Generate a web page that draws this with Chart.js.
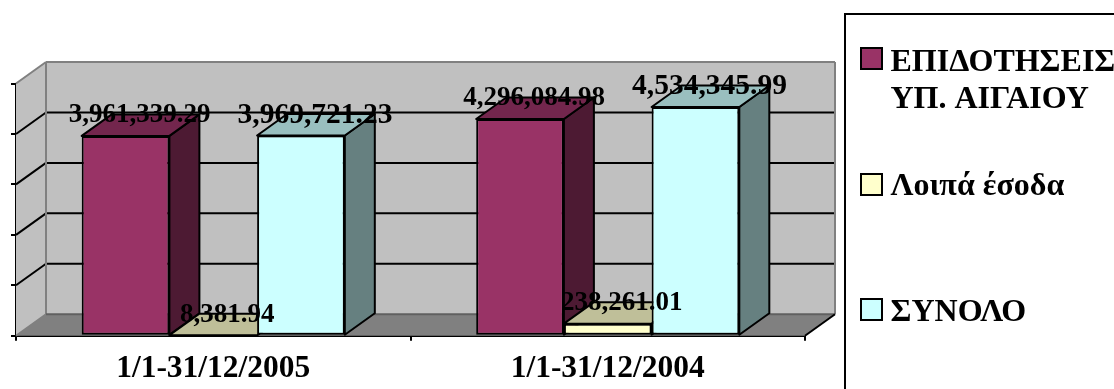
<!DOCTYPE html>
<html>
<head>
<meta charset="utf-8">
<title>Έσοδα</title>
<style>
  html, body { margin: 0; padding: 0; background: #fff; }
  canvas { display: block; }
</style>
<script src="https://cdn.jsdelivr.net/npm/chart.js@4"></script>
</head>
<body>
<canvas id="chart" width="1114" height="389"></canvas>
<script>
// Chart values
const categories = ["1/1-31/12/2005", "1/1-31/12/2004"];
const seriesNames = [["ΕΠΙΔΟΤΗΣΕΙΣ", "ΥΠ. ΑΙΓΑΙΟΥ"], ["Λοιπά έσοδα"], ["ΣΥΝΟΛΟ"]];
const grants = [3961339.29, 4296084.98];
const otherIncome = [8381.94, 238261.01];
const totals = [3969721.23, 4534345.99];
const yTicks = [0, 1000000, 2000000, 3000000, 4000000, 5000000];

// Face colours per series
const frontColors = ["#993366", "#FFFFCC", "#CCFFFF"];
const topColors = ["#73264D", "#BFBF99", "#99BFBF"];
const sideColors = ["#4D1A33", "#80806A", "#668080"];
const labelSizes = [27, 27, 29.5];

// 3D depth offset of the box
const depthX = 30;
const depthY = -21.5;
const serif = "'Liberation Serif', 'Times New Roman', serif";

function polygon(ctx, points, fill, stroke, width) {
  ctx.beginPath();
  points.forEach((p, i) => (i === 0 ? ctx.moveTo(p[0], p[1]) : ctx.lineTo(p[0], p[1])));
  ctx.closePath();
  if (fill) {
    ctx.fillStyle = fill;
    ctx.fill();
  }
  if (stroke) {
    ctx.strokeStyle = stroke;
    ctx.lineWidth = width;
    ctx.stroke();
  }
}

function line(ctx, x1, y1, x2, y2, color, width) {
  ctx.beginPath();
  ctx.moveTo(x1, y1);
  ctx.lineTo(x2, y2);
  ctx.strokeStyle = color;
  ctx.lineWidth = width;
  ctx.stroke();
}

const boxPlugin = {
  id: "box",
  beforeDatasetsDraw(chart) {
    const ctx = chart.ctx;
    const { left, right, top, bottom } = chart.chartArea;
    const y = chart.scales.y;
    ctx.save();

    // Back wall, side wall and floor
    polygon(ctx, [[left + depthX, top + depthY], [right + depthX, top + depthY], [right + depthX, bottom + depthY], [left + depthX, bottom + depthY]], "#C0C0C0");
    polygon(ctx, [[left, top], [left + depthX, top + depthY], [left + depthX, bottom + depthY], [left, bottom]], "#C0C0C0");
    polygon(ctx, [[left, bottom], [left + depthX, bottom + depthY], [right + depthX, bottom + depthY], [right, bottom]], "#808080");

    yTicks.slice(1, -1).forEach((value) => {
      const py = y.getPixelForValue(value);
      line(ctx, left, py, left + depthX, py + depthY, "#000", 2);
      line(ctx, left + depthX, py + depthY, right + depthX, py + depthY, "#000", 2);
    });

    // Grey outline of the walls
    line(ctx, left, top, left + depthX, top + depthY, "#808080", 2);
    line(ctx, left + depthX, top + depthY, right + depthX, top + depthY, "#808080", 2);
    line(ctx, right + depthX, top + depthY, right + depthX, bottom + depthY, "#808080", 2);
    line(ctx, left + depthX, top + depthY, left + depthX, bottom + depthY, "#808080", 2);
    line(ctx, left, bottom, left + depthX, bottom + depthY, "#808080", 2);
    line(ctx, left + depthX, bottom + depthY, right + depthX, bottom + depthY, "#606060", 2);
    line(ctx, right, bottom, right + depthX, bottom + depthY, "#000", 2);

    // Left to right so each bar overlaps the side of the one before it
    chart.data.datasets.forEach((set, i) => {
      const meta = chart.getDatasetMeta(i);
      ctx.lineJoin = "round";
      meta.data.forEach((bar) => {
        const l = bar.x - bar.width / 2;
        const r = bar.x + bar.width / 2;
        polygon(ctx, [[r, bar.y], [r + depthX, bar.y + depthY], [r + depthX, bar.base + depthY], [r, bar.base]], sideColors[i], "#000", 2);
        polygon(ctx, [[l, bar.y], [l + depthX, bar.y + depthY], [r + depthX, bar.y + depthY], [r, bar.y]], topColors[i], "#000", 2);
      });
      meta.controller.draw();
    });
    ctx.restore();
  },
  // Bars are already painted above
  beforeDatasetDraw() {
    return false;
  },
  afterDatasetsDraw(chart) {
    const ctx = chart.ctx;
    ctx.save();
    ctx.fillStyle = "#000";
    ctx.textAlign = "center";
    ctx.textBaseline = "middle";
    chart.data.datasets.forEach((set, i) => {
      ctx.font = "bold " + labelSizes[i] + "px " + serif;
      chart.getDatasetMeta(i).data.forEach((bar, j) => {
        const text = set.data[j].toLocaleString("en-US", { minimumFractionDigits: 2 });
        ctx.fillText(text, bar.x + 14, bar.y - 20.5);
      });
    });
    ctx.restore();
  },
};

// Legend panel on the right, runs off the canvas edge
const keyPlugin = {
  id: "keyPanel",
  afterDraw(chart) {
    const ctx = chart.ctx;
    const rows = [
      { keyY: 48, lines: [70.5, 108] },
      { keyY: 174, lines: [195] },
      { keyY: 299, lines: [320.5] },
    ];
    ctx.save();
    ctx.strokeStyle = "#000";
    ctx.lineWidth = 2;
    ctx.strokeRect(845, 14, 300, 400);
    ctx.font = "bold 32px " + serif;
    ctx.textAlign = "left";
    ctx.textBaseline = "alphabetic";
    rows.forEach((row, i) => {
      ctx.fillStyle = frontColors[i];
      ctx.fillRect(861, row.keyY, 21, 21);
      ctx.strokeRect(861, row.keyY, 21, 21);
      ctx.fillStyle = "#000";
      seriesNames[i].forEach((text, k) => ctx.fillText(text, 890.5, row.lines[k]));
    });
    ctx.restore();
  },
};

new Chart(document.getElementById("chart"), {
  type: "bar",
  data: {
    labels: categories,
    datasets: [grants, otherIncome, totals].map((values, i) => ({
      label: seriesNames[i].join(" "),
      data: values,
      backgroundColor: frontColors[i],
      borderColor: "#000",
      borderWidth: 2,
      borderSkipped: false,
      barPercentage: 1,
      categoryPercentage: 0.667,
    })),
  },
  options: {
    responsive: false,
    animation: false,
    layout: { padding: { top: 83.5, right: 309, left: 0, bottom: 0 } },
    plugins: { legend: { display: false }, tooltip: { enabled: false } },
    scales: {
      x: {
        afterFit: (scale) => { scale.height = 53.3; },
        border: { color: "#000", width: 2 },
        grid: { drawOnChartArea: false, color: "#000", lineWidth: 2, tickLength: 5 },
        ticks: { color: "#000", padding: 9, maxRotation: 0, font: { family: serif, size: 31.5, weight: "bold" } },
      },
      y: {
        min: 0,
        max: 5000000,
        afterFit: (scale) => { scale.width = 16; },
        afterBuildTicks: (scale) => { scale.ticks = yTicks.map((value) => ({ value })); },
        border: { color: "#000", width: 2 },
        grid: { drawOnChartArea: false, color: "#000", lineWidth: 2, tickLength: 5 },
        ticks: { display: false },
      },
    },
  },
  plugins: [boxPlugin, keyPlugin],
});
</script>
</body>
</html>
